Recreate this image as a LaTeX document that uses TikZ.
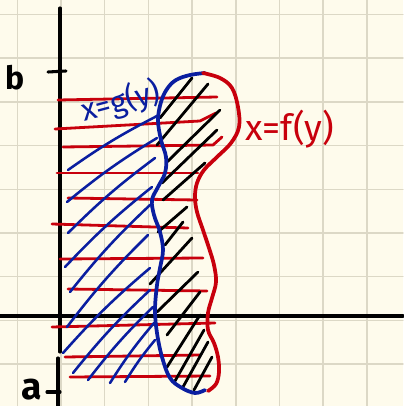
\documentclass[tikz,border=0pt]{standalone}
\usepackage{fontspec}
\setsansfont{Fira Sans}
\definecolor{bgc}{RGB}{254,251,236}
\definecolor{gridc}{RGB}{220,216,198}
\definecolor{redc}{RGB}{200,0,12}
\definecolor{bluec}{RGB}{10,30,160}
\begin{document}
\begin{tikzpicture}[x=0.75pt,y=-0.75pt,line cap=round,line join=round,
  gridline/.style={gridc,line width=1.1pt},
  axisline/.style={black,line width=2.3pt},
  redline/.style={redc,line width=2.1pt},
  bluehatch/.style={bluec,line width=1.9pt},
  blackhatch/.style={black,line width=2.1pt},
  curveR/.style={redc,line width=2.8pt},
  curveB/.style={bluec,line width=2.8pt},
  lbl/.style={font=\sffamily\fontsize{26}{26}\selectfont,inner sep=0pt}]
\fill[bgc] (0,0) rectangle (403,406);
\useasboundingbox (0,0) rectangle (403,406);
% grid
\foreach \i in {0,...,8} {
  \draw[gridline] ({17.3+43.7*\i},0) -- ({17.3+43.7*\i},406);
  \draw[gridline] (0,{14.5+43.7*\i}) -- (403,{14.5+43.7*\i});
}
% axes
\draw[axisline] (60,8) -- (60,352);
\draw[axisline] (58,358) -- (58,406);
\draw[axisline] (0,316) -- (403,316);
\draw[axisline] (48,72) -- (66,71);
\draw[axisline] (47,392) -- (60,392);
\node[lbl,anchor=base,font=\sffamily\bfseries\fontsize{24}{24}\selectfont] (bl) at (15,90) {b};
\node[lbl,anchor=base,font=\sffamily\bfseries\fontsize{28}{28}\selectfont] (al) at (32,399) {a};
% red horizontal lines
\draw[redline] (58,100) -- (217,97);
\draw[redline] (55,129) -- (200,121) -- (216,113);
\draw[redline] (63,147) -- (213,145) -- (222,137);
\draw[redline] (57,173) -- (198,173);
\draw[redline] (68,198) -- (197,200);
\draw[redline] (52,224) -- (188,228);
\draw[redline] (60,259) -- (203,258);
\draw[redline] (68,289) -- (207,291);
\draw[redline] (52,327) -- (215,323);
\draw[redline] (65,357) -- (200,355);
\draw[redline] (70,377) -- (210,376);
% blue hatches
\draw[bluehatch] (68,170) to[bend left=4] (157,116);
\draw[bluehatch] (67,202) to[bend left=4] (157,138);
\draw[bluehatch] (68,233) to[bend left=4] (155,158);
\draw[bluehatch] (65,267) to[bend left=4] (152,187);
\draw[bluehatch] (70,292) to[bend left=4] (150,205);
\draw[bluehatch] (67,327) to[bend left=4] (148,235);
\draw[bluehatch] (63,353) to[bend left=4] (150,268);
\draw[bluehatch] (73,373) to[bend left=4] (150,290);
\draw[bluehatch] (88,380) to[bend left=4] (153,307);
\draw[bluehatch] (110,383) to[bend left=4] (154,323);
\draw[bluehatch] (125,382) to[bend left=4] (155,340);
% black hatches
\draw[blackhatch] (160,118) -- (192,78);
\draw[blackhatch] (157,145) -- (208,84);
\draw[blackhatch] (167,162) -- (220,110);
\draw[blackhatch] (162,183) -- (217,130);
\draw[blackhatch] (163,200) -- (205,163);
\draw[blackhatch] (158,232) -- (187,207);
\draw[blackhatch] (165,245) -- (183,222);
\draw[blackhatch] (150,284) -- (192,238);
\draw[blackhatch] (157,312) -- (198,272);
\draw[blackhatch] (167,335) -- (200,292);
\draw[blackhatch] (167,367) -- (200,315);
\draw[blackhatch] (175,381) -- (204,330);
\draw[blackhatch] (183,387) -- (208,342);
\draw[blackhatch] (194,390) -- (212,357);
% curves
\draw[curveB] plot[smooth,tension=0.6] coordinates {(205,73) (190,75) (176,80) (167,89) (161,102) (158,120) (161,140) (166,157) (165,173) (158,187) (152,200) (154,215) (160,232) (163,250) (160,268) (157,285) (155,310) (157,333) (162,357) (170,378) (182,388) (195,393) (205,390)};
\draw[curveR] plot[smooth,tension=0.6] coordinates {(203,73) (220,78) (232,88) (238,107) (239,127) (231,143) (217,157) (204,170) (197,183) (195,197) (197,212) (203,230) (209,248) (214,265) (216,282) (212,298) (208,313) (208,330) (214,343) (218,357) (219,372) (216,384) (208,391)};
% labels
\node[lbl,text=redc,font=\sffamily\fontsize{27}{27}\selectfont] (fl) at (290,129) {x=f(y)};
\node[lbl,text=bluec,rotate=15,font=\sffamily\fontsize{23}{23}\selectfont] (gl) at (121,102) {x=g(y)};
\end{tikzpicture}
\end{document}
